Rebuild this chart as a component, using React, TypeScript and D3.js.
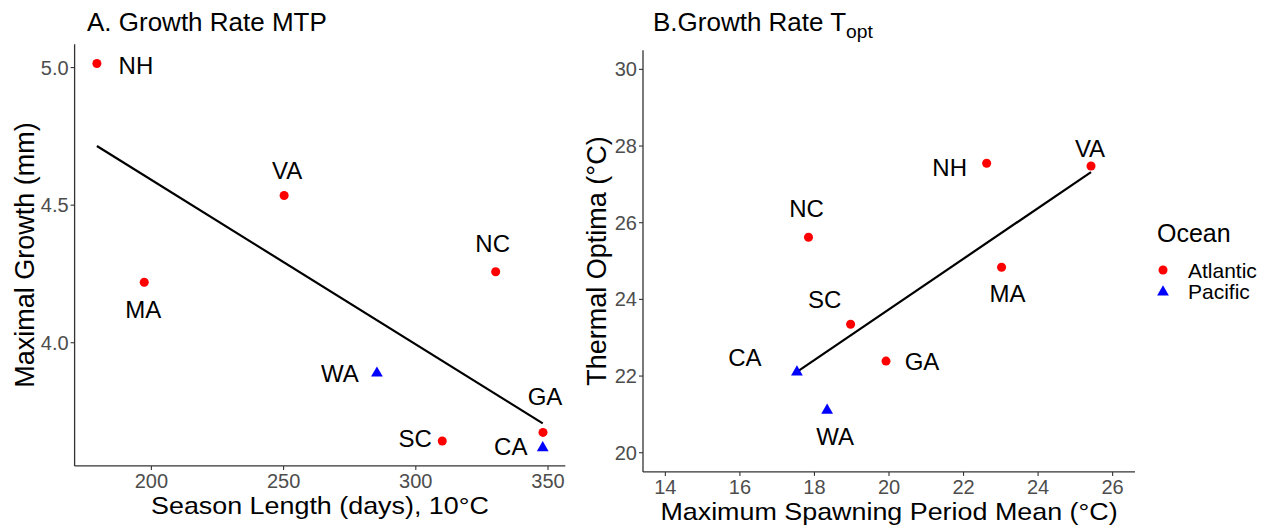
import React from "react";
import * as d3 from "d3";

// ---------- Data ----------
const sites = ["NH", "MA", "VA", "NC", "SC", "GA", "WA", "CA"];
const ocean = ["Atlantic", "Atlantic", "Atlantic", "Atlantic", "Atlantic", "Atlantic", "Pacific", "Pacific"];
const seasonLength = [179.4, 197.3, 250.2, 330.2, 310.0, 348.1, 285.3, 348.0];
const maxGrowth = [5.015, 4.22, 4.535, 4.258, 3.643, 3.674, 3.893, 3.622];
const spawnMean = [22.62, 23.02, 25.42, 17.84, 18.97, 19.92, 18.34, 17.53];
const thermalOpt = [27.55, 24.84, 27.48, 25.62, 23.35, 22.39, 21.13, 22.13];
const fitA = [[179.4, 4.715], [348.0, 3.707]];
const fitB = [[17.53, 22.11], [25.42, 27.32]];
const ticksA_x = [200, 250, 300, 350];
const ticksA_y = [4.0, 4.5, 5.0];
const ticksB_x = [14, 16, 18, 20, 22, 24, 26];
const ticksB_y = [20, 22, 24, 26, 28, 30];
const oceans = ["Atlantic", "Pacific"];

// label placement (text centre offset from point, px)
const labelOffA: Record<string, [number, number]> = {
  NH: [39, 2], MA: [-1, 27], VA: [3, -25], NC: [-3, -28],
  SC: [-27, -3], GA: [2, -36], WA: [-37, 1], CA: [-32, 0],
};
const labelOffB: Record<string, [number, number]> = {
  NH: [-37, 4], MA: [6, 26], VA: [-1, -18], NC: [-2, -29],
  SC: [-26, -25], GA: [36, 0], WA: [8, 27], CA: [-52, -14],
};

const FONT = "'Liberation Sans', Arial, Helvetica, sans-serif";
const colorScale = d3.scaleOrdinal<string, string>().domain(oceans).range(["#FF0000", "#0000FF"]);
const symbolFor = (o: string) => (o === "Atlantic" ? d3.symbolCircle : d3.symbolTriangle);
const symSize = (o: string) => (o === "Atlantic" ? 64 : 60);

function expand(ext: [number, number], f = 0.05): [number, number] {
  const r = ext[1] - ext[0];
  return [ext[0] - r * f, ext[1] + r * f];
}

type PanelProps = {
  title: React.ReactNode;
  titleX: number;
  xs: number[];
  ys: number[];
  xDomain: [number, number];
  yDomain: [number, number];
  xRange: [number, number];
  yRange: [number, number];
  xTicks: number[];
  yTicks: number[];
  yFmt: (v: number) => string;
  fit: number[][];
  labelOff: Record<string, [number, number]>;
  xTitle: string;
  xTitleY: number;
  yTitle: string;
  yTitleX: number;
};

function Panel(p: PanelProps) {
  const x = d3.scaleLinear().domain(p.xDomain).range(p.xRange);
  const y = d3.scaleLinear().domain(p.yDomain).range(p.yRange);
  const line = d3.line<number[]>().x((d) => x(d[0])).y((d) => y(d[1]));
  const axisColor = "#333333";
  const tickColor = "#4D4D4D";
  const x0 = p.xRange[0], x1 = p.xRange[1];
  const yb = p.yRange[0], yt = p.yRange[1];
  return (
    <g>
      <text transform={`translate(${p.titleX},31) scale(1.04,1)`} fontSize={25} fontFamily={FONT} fill="#000">{p.title}</text>
      {/* axes */}
      <line x1={x0} x2={x0} y1={yt} y2={yb} stroke={axisColor} strokeWidth={1.3} />
      <line x1={x0} x2={x1} y1={yb} y2={yb} stroke={axisColor} strokeWidth={1.3} />
      {p.xTicks.map((t) => (
        <g key={"xt" + t}>
          <line x1={x(t)} x2={x(t)} y1={yb} y2={yb + 4} stroke={axisColor} strokeWidth={1.1} />
          <text x={x(t)} y={yb + 22.5} textAnchor="middle" fontSize={20} fontFamily={FONT} fill={tickColor}>{t}</text>
        </g>
      ))}
      {p.yTicks.map((t) => (
        <g key={"yt" + t}>
          <line x1={x0 - 4} x2={x0} y1={y(t)} y2={y(t)} stroke={axisColor} strokeWidth={1.1} />
          <text x={x0 - 6} y={y(t)} dy="0.35em" textAnchor="end" fontSize={20} fontFamily={FONT} fill={tickColor}>{p.yFmt(t)}</text>
        </g>
      ))}
      <text transform={`translate(${(x0 + x1) / 2},${p.xTitleY}) scale(1.12,1)`} textAnchor="middle" fontSize={24} fontFamily={FONT} fill="#000">{p.xTitle}</text>
      <text transform={`translate(${p.yTitleX},${(yt + yb) / 2}) rotate(-90)`} textAnchor="middle" fontSize={27} fontFamily={FONT} fill="#000">{p.yTitle}</text>
      {/* fit line */}
      <path d={line(p.fit) || ""} fill="none" stroke="#000" strokeWidth={2.2} />
      {/* points */}
      {sites.map((s, i) => {
        const px = x(p.xs[i]), py = y(p.ys[i]);
        const o = ocean[i];
        const sym = d3.symbol().type(symbolFor(o)).size(symSize(o))();
        const off = p.labelOff[s];
        return (
          <g key={s}>
            <path d={sym || ""} transform={`translate(${px},${py + (o === "Pacific" ? 1 : 0)})`} fill={colorScale(o)} />
            <text x={px + off[0]} y={py + off[1]} dy="0.36em" textAnchor="middle" fontSize={24} fontFamily={FONT} fill="#000">{s}</text>
          </g>
        );
      })}
    </g>
  );
}

export default function App() {
  const xDomA = expand(d3.extent(seasonLength) as [number, number]);
  const yDomA = expand(d3.extent(maxGrowth) as [number, number]);
  const xDomB = expand([14, 26]);
  const yDomB = expand([20, 30]);
  return (
    <svg width={1270} height={525} style={{ position: "absolute", left: 0, top: 0, background: "#fff" }}>
      <rect width={1270} height={525} fill="#fff" />
      <Panel
        title="A. Growth Rate MTP"
        titleX={87}
        xs={seasonLength}
        ys={maxGrowth}
        xDomain={xDomA}
        yDomain={yDomA}
        xRange={[74.6, 565.3]}
        yRange={[465.9, 44.3]}
        xTicks={ticksA_x}
        yTicks={ticksA_y}
        yFmt={(v) => v.toFixed(1)}
        fit={fitA}
        labelOff={labelOffA}
        xTitle="Season Length (days), 10°C"
        xTitleY={514}
        yTitle="Maximal Growth (mm)"
        yTitleX={34}
      />
      <Panel
        title={<>B.Growth Rate T<tspan fontSize={18.5} dy={7}>opt</tspan></>}
        titleX={653}
        xs={spawnMean}
        ys={thermalOpt}
        xDomain={xDomB}
        yDomain={yDomB}
        xRange={[643, 1135]}
        yRange={[471.9, 50.2]}
        xTicks={ticksB_x}
        yTicks={ticksB_y}
        yFmt={(v) => String(v)}
        fit={fitB}
        labelOff={labelOffB}
        xTitle="Maximum Spawning Period Mean (°C)"
        xTitleY={520}
        yTitle="Thermal Optima (°C)"
        yTitleX={606}
      />
      {/* legend */}
      <g>
        <text x={1157} y={242} fontSize={25} fontFamily={FONT} fill="#000">Ocean</text>
        {oceans.map((o, i) => {
          const cy = 270 + i * 21;
          const sym = d3.symbol().type(symbolFor(o)).size(symSize(o))();
          return (
            <g key={o}>
              <path d={sym || ""} transform={`translate(1163,${cy + (o === "Pacific" ? 1 : 0)})`} fill={colorScale(o)} />
              <text x={1188} y={cy} dy="0.36em" fontSize={21} fontFamily={FONT} fill="#000">{o}</text>
            </g>
          );
        })}
      </g>
    </svg>
  );
}
